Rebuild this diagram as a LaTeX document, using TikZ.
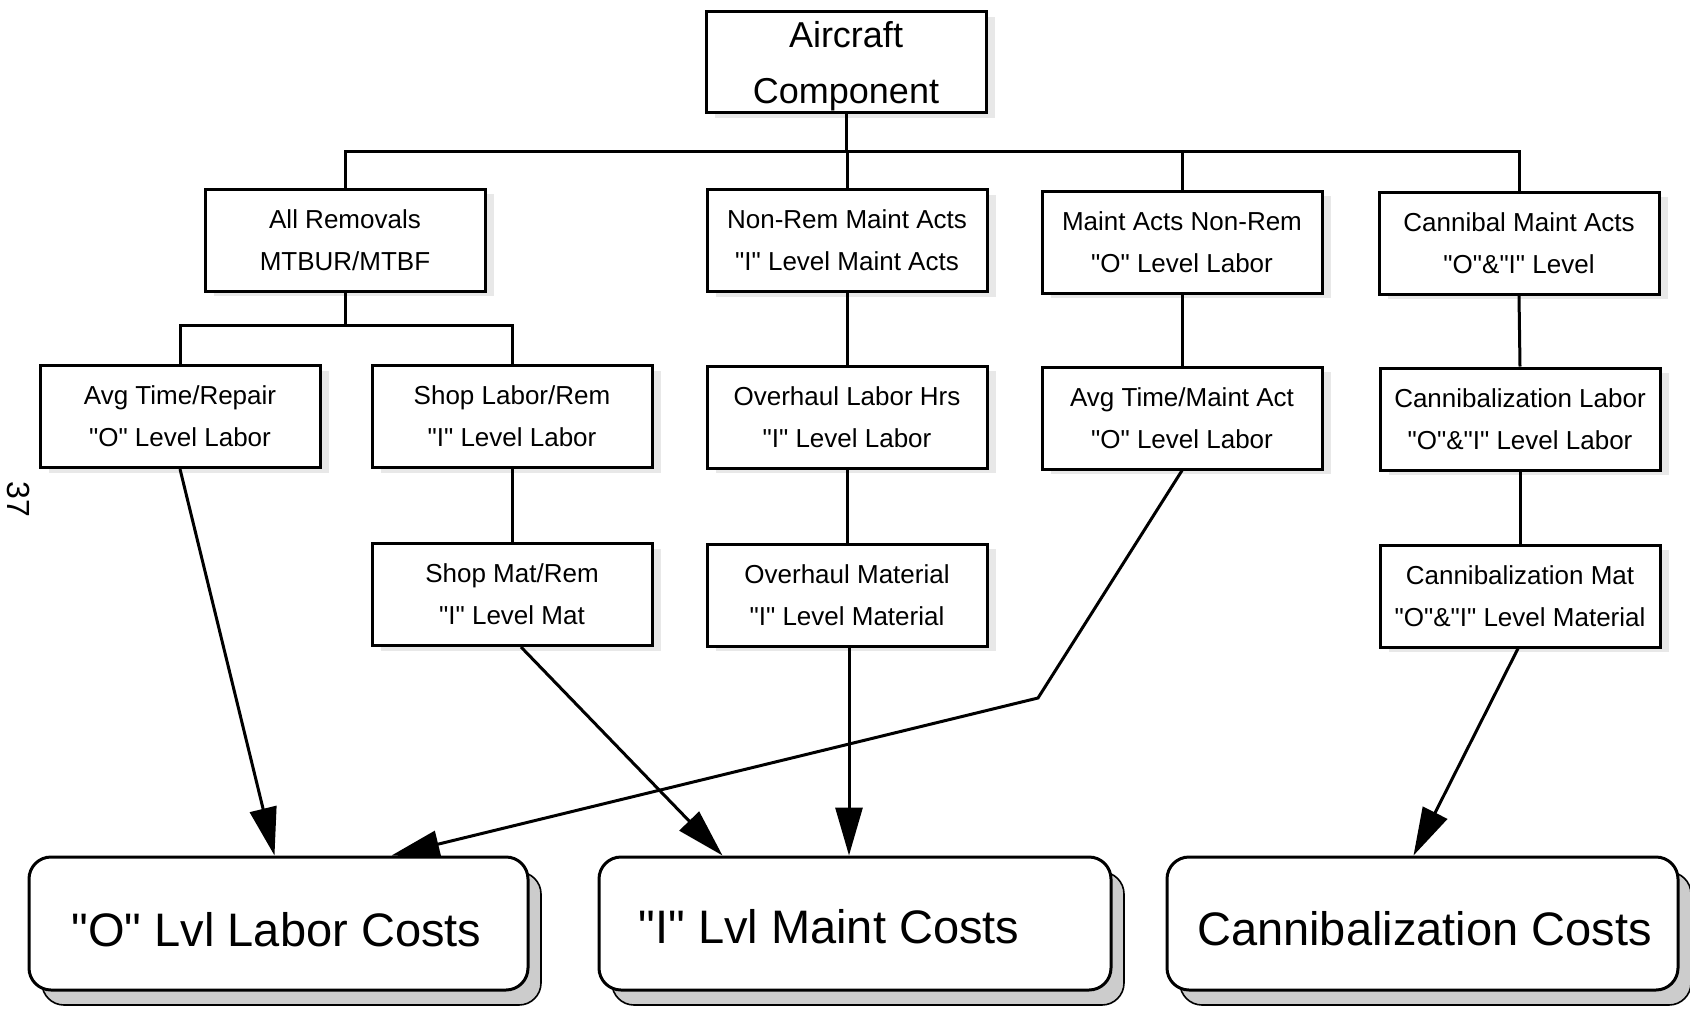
\documentclass[tikz,border=0pt]{standalone}
\usepackage{fontspec}
\setmainfont{Liberation Sans}[Ligatures=TeXOff]
\usetikzlibrary{arrows.meta,shadows,calc}
\begin{document}
\begin{tikzpicture}[x=1pt,y=-1pt,
  line join=miter,
  smallbox/.style={draw, line width=3pt, fill=white, minimum width=280pt, minimum height=102pt,
    align=center, font=\fontsize{26}{42}\selectfont, inner sep=0pt,
    copy shadow={shadow xshift=9pt, shadow yshift=-5pt, fill=gray!18, draw=none}},
  topbox/.style={smallbox, font=\fontsize{36}{56}\selectfont},
  bigbox/.style={draw, line width=3pt, fill=white, rounded corners=22pt, inner sep=0pt,
    copy shadow={shadow xshift=13pt, shadow yshift=-15pt, fill=gray!40, draw=black, line width=1.6pt}},
  bigtext/.style={font=\fontsize{47}{56}\selectfont, inner sep=0pt},
  conn/.style={line width=3pt},
  arr/.style={line width=3pt, -{Triangle[length=48pt,width=27pt]}}
]
\useasboundingbox (0,0) rectangle (1690,1010);

% top
\node[topbox, minimum width=280pt, minimum height=101pt, text depth=0pt] (aircraft) at (846,62) {Aircraft\\Component};

% level 1
\node[smallbox] (allrem)  at (345,240)   {All Removals\\MTBUR/MTBF};
\node[smallbox] (nonrem)  at (847,240.5) {Non-Rem Maint Acts\\"I" Level Maint Acts};
\node[smallbox] (maintnr) at (1182,242)  {Maint Acts Non-Rem\\"O" Level Labor};
\node[smallbox] (cannib)  at (1519,243)  {Cannibal Maint Acts\\"O"\&"I" Level};

% level 2
\node[smallbox] (avgrep)   at (180,416.5) {Avg Time/Repair\\"O" Level Labor};
\node[smallbox] (shoplab)  at (512,416.5) {Shop Labor/Rem\\"I" Level Labor};
\node[smallbox] (ovlab)    at (847,417)   {Overhaul Labor Hrs\\"I" Level Labor};
\node[smallbox] (avgmaint) at (1182,418)  {Avg Time/Maint Act\\"O" Level Labor};
\node[smallbox] (canlab)   at (1520,419)  {Cannibalization Labor\\"O"\&"I" Level Labor};

% level 3
\node[smallbox] (shopmat) at (512,594.5) {Shop Mat/Rem\\"I" Level Mat};
\node[smallbox] (ovmat)   at (847,595)   {Overhaul Material\\"I" Level Material};
\node[smallbox] (canmat)  at (1520,596)  {Cannibalization Mat\\"O"\&"I" Level Material};

% bottom cost boxes
\node[bigbox, minimum width=499pt, minimum height=133pt] (olab)   at (278.5,923.5) {};
\node[bigbox, minimum width=512pt, minimum height=133pt] (imaint) at (855,923.5)   {};
\node[bigbox, minimum width=511pt, minimum height=133pt] (cann)   at (1422.5,923.5){};
\node[bigtext] (olabt)   at ([shift={(-2pt,-6pt)}]olab.center)    {"O" Lvl Labor Costs};
\node[bigtext] (imaintt) at ([shift={(-26pt,-3pt)}]imaint.center) {"I" Lvl Maint Costs};
\node[bigtext] (cannt)   at ([shift={(2pt,-5pt)}]cann.center)     {Cannibalization Costs};

% page number
\node[font=\fontsize{32}{36}\selectfont, rotate=-90, inner sep=0pt] (pagenum) at (19,499) {37};

% tree connectors
\coordinate (bus1) at (0,151);
\coordinate (bus2) at (0,325);
\draw[conn] (aircraft.south) -- (aircraft.south |- bus1);
\draw[conn] (allrem.north) -- (allrem.north |- bus1) -- (cannib.north |- bus1) -- (cannib.north);
\draw[conn] (nonrem.north) -- (nonrem.north |- bus1);
\draw[conn] (maintnr.north) -- (maintnr.north |- bus1);

\draw[conn] (allrem.south) -- (allrem.south |- bus2);
\draw[conn] (avgrep.north) -- (avgrep.north |- bus2) -- (shoplab.north |- bus2) -- (shoplab.north);

\draw[conn] (shoplab.south) -- (shopmat.north);
\draw[conn] (nonrem.south) -- (ovlab.north);
\draw[conn] (ovlab.south) -- (ovmat.north);
\draw[conn] (maintnr.south) -- (avgmaint.north);
\draw[conn] (cannib.south) -- (canlab.north);
\draw[conn] (canlab.south) -- (canmat.north);

% arrows to cost boxes
\coordinate (bend) at (1038,698);
\draw[arr] (avgrep.south) -- ([xshift=247pt]olab.north west);
\draw[arr] ([xshift=9pt]shopmat.south) -- ([xshift=125pt]imaint.north west);
\draw[arr] ([xshift=2pt]ovmat.south) -- ([xshift=2pt]ovmat.south |- imaint.north);
\draw[arr] (avgmaint.south) -- (bend) -- ([xshift=364pt]olab.north west);
\draw[arr] ([xshift=-2pt]canmat.south) -- ([xshift=248pt]cann.north west);
\end{tikzpicture}
\end{document}
